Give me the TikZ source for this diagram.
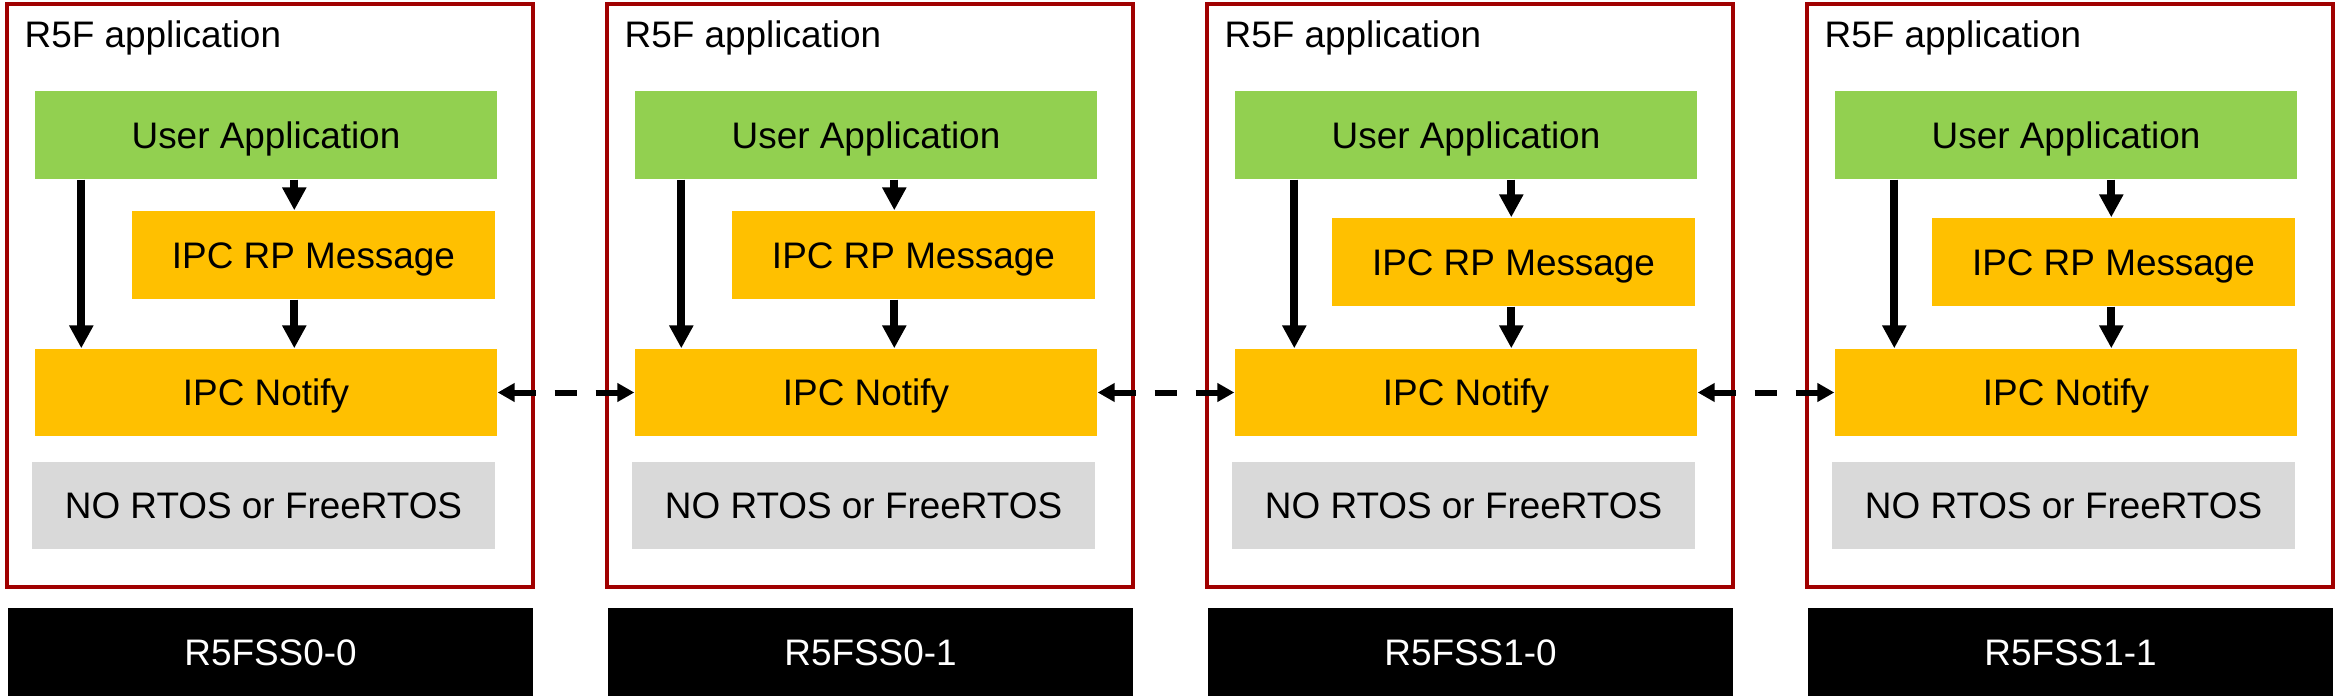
\documentclass[tikz,border=0pt]{standalone}
\usepackage{fontspec}
\setmainfont{Liberation Sans}
\usepackage{tikz}
\usetikzlibrary{arrows.meta}

\definecolor{appgreen}{HTML}{92D050}
\definecolor{ipcorange}{HTML}{FFC000}
\definecolor{osgray}{HTML}{D9D9D9}
\definecolor{framered}{HTML}{A00000}

\begin{document}
\begin{tikzpicture}[
  font=\fontsize{10.5}{12}\selectfont,
  layerbox/.style={rectangle, inner sep=0pt, text height=7.5pt, text depth=0pt, align=center},
  downarrow/.style={line width=0.08cm, -{Triangle[width=0.23cm,length=0.23cm]}},
  linkarrow/.style={line width=0.06cm, dash pattern=on 0.22cm off 0.19cm, {Triangle[width=0.18cm,length=0.17cm]}-{Triangle[width=0.18cm,length=0.17cm]}}
]
\useasboundingbox (0,0) rectangle (23.35,-6.96);

% One R5F core per panel
\foreach \i/\core/\dy/\lx/\mx in {0/R5FSS0-0/0/0.47/2.60, 1/R5FSS0-1/0/0.47/2.60, 2/R5FSS1-0/-0.07/0.60/2.77, 3/R5FSS1-1/-0.07/0.60/2.77} {
\begin{scope}[xshift=\i*6cm]
\node[draw=framered, line width=0.043cm, rectangle, minimum width=5.26cm, minimum height=5.83cm] (frame\i) at (2.70,-2.955) {};
\node[anchor=base west, inner sep=0pt] (title\i) at (0.24,-0.48) {R5F application};

\node[layerbox, fill=appgreen, minimum width=4.62cm, minimum height=0.88cm] (ua\i) at (2.66,-1.35) {User Application};
\node[layerbox, fill=ipcorange, minimum width=3.63cm, minimum height=0.88cm] (rp\i) at (3.135,-2.55+\dy) {IPC RP Message};
\node[layerbox, fill=ipcorange, minimum width=4.62cm, minimum height=0.87cm] (nt\i) at (2.66,-3.925) {IPC Notify};
\node[layerbox, fill=osgray, minimum width=4.63cm, minimum height=0.87cm] (os\i) at (2.635,-5.055) {NO RTOS or FreeRTOS};

\node[layerbox, fill=black, text=white, minimum width=5.25cm, minimum height=0.88cm] (core\i) at (2.705,-6.52) {\core};

% Arrows inside the panel
\coordinate (la\i) at ([xshift=\lx cm]ua\i.south west);
\coordinate (ma\i) at ([xshift=\mx cm]ua\i.south west);
\draw[downarrow] (la\i) -- (la\i |- nt\i.north);
\draw[downarrow] (ma\i) -- (ma\i |- rp\i.north);
\draw[downarrow] (ma\i |- rp\i.south) -- (ma\i |- nt\i.north);
\end{scope}
}

% Links between the cores
\foreach \a/\b in {0/1, 1/2, 2/3}
  \draw[linkarrow] (nt\a.east) -- (nt\b.west);

\end{tikzpicture}
\end{document}
